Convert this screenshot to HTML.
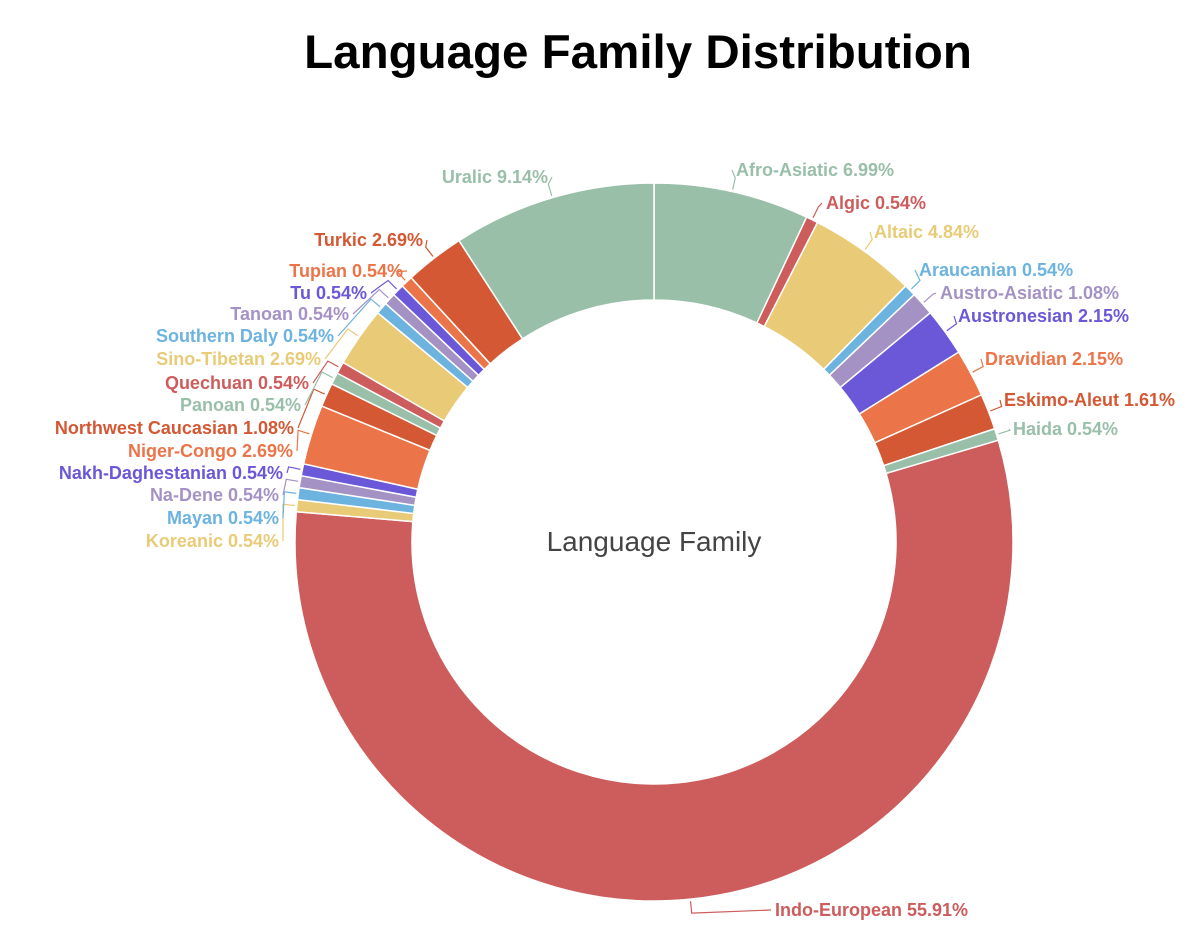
<!DOCTYPE html>
<html><head><meta charset="utf-8">
<style>
body{margin:0;background:#fff;}
svg{display:block;font-family:"Liberation Sans",sans-serif;}
</style></head>
<body>
<svg id="chart" width="1202" height="950" viewBox="0 0 1202 950">
<text x="638" y="68" text-anchor="middle" font-size="47.5" font-weight="bold" fill="#000">Language Family Distribution</text>
<g id="slices"></g>
<g id="labels"></g>
<text x="654" y="551" text-anchor="middle" font-size="28" fill="#444">Language Family</text>
</svg>
<script>
const categories = ["Afro-Asiatic","Algic","Altaic","Araucanian","Austro-Asiatic","Austronesian","Dravidian","Eskimo-Aleut","Haida","Indo-European","Koreanic","Mayan","Na-Dene","Nakh-Daghestanian","Niger-Congo","Northwest Caucasian","Panoan","Quechuan","Sino-Tibetan","Southern Daly","Tanoan","Tu","Tupian","Turkic","Uralic"];
const counts = [13,1,9,1,2,4,4,3,1,104,1,1,1,1,5,2,1,1,5,1,1,1,1,5,17];
const percentLabels = ["6.99%","0.54%","4.84%","0.54%","1.08%","2.15%","2.15%","1.61%","0.54%","55.91%","0.54%","0.54%","0.54%","0.54%","2.69%","1.08%","0.54%","0.54%","2.69%","0.54%","0.54%","0.54%","0.54%","2.69%","9.14%"];
const palette = ["#99bfa9","#cd5c5c","#e9cb77","#6cb3e0","#a592c5","#6a58d8","#ec7449","#d45833"];
// label layout (x, y, anchor)
const layout = {
"Afro-Asiatic":[736,176,"start"],"Algic":[826,209,"start"],"Altaic":[874,238,"start"],"Araucanian":[919,276,"start"],
"Austro-Asiatic":[940,299,"start"],"Austronesian":[958,322,"start"],"Dravidian":[985,365,"start"],"Eskimo-Aleut":[1004,406,"start"],
"Haida":[1013,435,"start"],"Indo-European":[775,916,"start"],"Koreanic":[279,547,"end"],"Mayan":[279,524,"end"],"Na-Dene":[279,501,"end"],
"Nakh-Daghestanian":[283,479,"end"],"Niger-Congo":[293,457,"end"],"Northwest Caucasian":[294,434,"end"],"Panoan":[301,411,"end"],
"Quechuan":[309,389,"end"],"Sino-Tibetan":[321,365,"end"],"Southern Daly":[334,342,"end"],"Tanoan":[349,320,"end"],"Tu":[367,299,"end"],
"Tupian":[403,277,"end"],"Turkic":[423,246,"end"],"Uralic":[548,183,"end"]};
const cx=654, cy=542, R=359, r0=242;
const NS="http://www.w3.org/2000/svg";
const total = counts.reduce((a,b)=>a+b,0);
function angle(v){return v/total*2*Math.PI;}
function pt(a,rad){return [cx+rad*Math.sin(a), cy-rad*Math.cos(a)];}
const gS=document.getElementById('slices'), gL=document.getElementById('labels');
let acc=0;
categories.forEach((c,i)=>{
  const a0=angle(acc), a1=angle(acc+counts[i]); acc+=counts[i];
  const large=(a1-a0)>Math.PI?1:0;
  const p1=pt(a0,R),p2=pt(a1,R),p3=pt(a1,r0),p4=pt(a0,r0);
  const path=document.createElementNS(NS,'path');
  path.setAttribute('d',`M${p1}A${R},${R} 0 ${large} 1 ${p2}L${p3}A${r0},${r0} 0 ${large} 0 ${p4}Z`);
  path.setAttribute('fill',palette[i%8]);
  path.setAttribute('stroke','#fff');
  path.setAttribute('stroke-width','1.5');
  
  
  gS.appendChild(path);
  const am=(a0+a1)/2, L=layout[c];
  const e0=pt(am,R+2), e1=pt(am,R+14);
  const tx=L[2]==="start"?L[0]-4:L[0]+4;
  const line=document.createElementNS(NS,'polyline');
  line.setAttribute('points',`${e0} ${e1} ${tx},${L[1]-6}`);
  line.setAttribute('fill','none');
  line.setAttribute('stroke',palette[i%8]);
  line.setAttribute('stroke-width','1.2');
  
  
  gL.appendChild(line);
  const t=document.createElementNS(NS,'text');
  t.setAttribute('x',L[0]);t.setAttribute('y',L[1]);
  t.setAttribute('text-anchor',L[2]);
  t.setAttribute('font-size','18');
  t.setAttribute('font-weight','bold');
  t.setAttribute('fill',palette[i%8]);
  
  
  t.textContent=c+" "+percentLabels[i];
  gL.appendChild(t);
});
</script>
</body></html>
